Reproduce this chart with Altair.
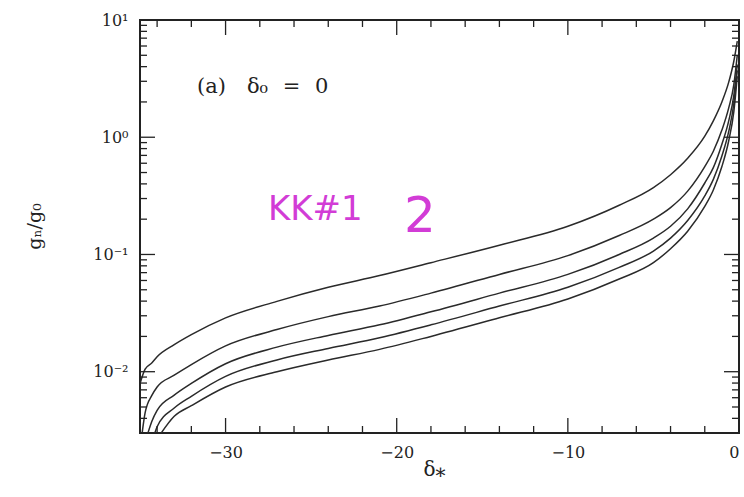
import altair as alt
import pandas as pd

# ---- data (x = delta_*, y = g_n/g_0) ----
x1 = [-35, -34.7, -34.3, -34, -33, -32, -30, -27, -24, -21, -18, -14, -10, -7, -5, -4, -3, -2, -1.5, -1, -0.6, -0.3, -0.1]
y1 = [0.0079, 0.0105, 0.0119, 0.0134, 0.0170, 0.0207, 0.0288, 0.0398, 0.0525, 0.0661, 0.0851, 0.120, 0.174, 0.263, 0.372, 0.479, 0.661, 1.02, 1.38, 2.00, 2.95, 4.47, 6.61]

x2 = [-34.9, -34.7, -34.3, -34, -33, -32, -30, -27, -24, -21, -18, -14, -10, -7, -5, -4, -3, -2, -1.5, -1, -0.6, -0.3, -0.1]
y2 = [0.0028, 0.00447, 0.00631, 0.00741, 0.00933, 0.0115, 0.0166, 0.0229, 0.0295, 0.0363, 0.0468, 0.0676, 0.0977, 0.145, 0.200, 0.251, 0.347, 0.562, 0.759, 1.15, 1.78, 2.82, 5.01]

x3 = [-34.6, -34.3, -34, -33, -32, -30, -27, -24, -21, -18, -14, -10, -7, -5, -4, -3, -2, -1.5, -1, -0.6, -0.3, -0.1]
y3 = [0.0028, 0.0038, 0.00468, 0.00631, 0.00794, 0.0117, 0.0162, 0.0204, 0.0251, 0.0324, 0.0468, 0.0676, 0.100, 0.138, 0.174, 0.245, 0.407, 0.550, 0.871, 1.38, 2.29, 4.17]

x4 = [-34.2, -34, -33, -32, -30, -27, -24, -21, -18, -14, -10, -7, -5, -4, -3, -2, -1.5, -1, -0.6, -0.3, -0.1]
y4 = [0.0028, 0.00339, 0.0049, 0.00617, 0.00912, 0.0126, 0.0158, 0.0195, 0.0251, 0.0363, 0.0525, 0.0776, 0.107, 0.138, 0.195, 0.316, 0.437, 0.692, 1.12, 1.95, 3.72]

x5 = [-33.9, -33, -32, -30, -27, -24, -21, -18, -14, -10, -7, -5, -4, -3, -2, -1.5, -1, -0.6, -0.3, -0.1]
y5 = [0.0028, 0.00417, 0.00513, 0.00741, 0.0100, 0.0126, 0.0155, 0.0200, 0.0288, 0.0417, 0.0617, 0.0851, 0.112, 0.158, 0.257, 0.355, 0.562, 0.933, 1.66, 3.31]

# ---- tick values and labels ----
x_major = [-30, -20, -10]
x_minor = [-34, -32, -28, -26, -24, -22, -18, -16, -14, -12, -8, -6, -4, -2]
x_label_values = [-30, -20, -10, 0]
y_major = [0.01, 0.1, 1, 10]
y_minor = [0.003, 0.004, 0.005, 0.006, 0.007, 0.008, 0.009,
           0.02, 0.03, 0.04, 0.05, 0.06, 0.07, 0.08, 0.09,
           0.2, 0.3, 0.4, 0.5, 0.6, 0.7, 0.8, 0.9,
           2, 3, 4, 5, 6, 7, 8, 9]

W, H = 599, 413
SERIF = "DejaVu Serif"
INK = "#222222"

rows = []
for name, xs, ys in [("n1", x1, y1), ("n2", x2, y2), ("n3", x3, y3), ("n4", x4, y4), ("n5", x5, y5)]:
    for a, b in zip(xs, ys):
        rows.append({"x": a, "y": b, "curve": name})
df = pd.DataFrame(rows)

xscale = alt.Scale(domain=[-35, 0], nice=False, zero=False)
yscale = alt.Scale(type="log", domain=[0.003, 10], nice=False)

xaxis = alt.Axis(
    values=x_label_values, grid=False, ticks=False, domain=False,
    labelExpr="datum.value == 0 ? '0' : '\u2212' + abs(datum.value)",
    labelFont=SERIF, labelFontSize=16, labelColor=INK, labelPadding=11,
    title="\u03b4\u204e", titleFont=SERIF, titleFontSize=20, titleFontWeight="normal",
    titleColor=INK, titleX=294, titleY=36, titleBaseline="middle",
)
yaxis = alt.Axis(
    values=y_major, grid=False, ticks=False, domain=False,
    labelExpr="datum.value >= 5 ? '10\u00b9' : datum.value >= 0.5 ? '10\u2070' : datum.value >= 0.05 ? '10\u207b\u00b9' : '10\u207b\u00b2'",
    labelFont=SERIF, labelFontSize=16, labelColor=INK, labelPadding=12,
    title="g\u2099/g\u2080", titleFont=SERIF, titleFontSize=19, titleFontWeight="normal",
    titleColor=INK, titleX=-106, titleY=206, titleAngle=270, titleBaseline="middle",
)

lines = alt.Chart(df).mark_line(clip=True, strokeWidth=1.5, color="#2a2a2a", interpolate="monotone").encode(
    x=alt.X("x:Q", scale=xscale, axis=xaxis),
    y=alt.Y("y:Q", scale=yscale, axis=yaxis),
    detail="curve:N",
)

def xticks(vals, length):
    d = pd.DataFrame({"v": vals})
    bottom = alt.Chart(d).mark_rule(color=INK, strokeWidth=1.3).encode(
        x=alt.X("v:Q", scale=xscale), y=alt.value(H), y2=alt.value(H - length))
    top = alt.Chart(d).mark_rule(color=INK, strokeWidth=1.3).encode(
        x=alt.X("v:Q", scale=xscale), y=alt.value(0), y2=alt.value(length))
    return [bottom, top]

def yticks(vals, length):
    d = pd.DataFrame({"v": vals})
    left = alt.Chart(d).mark_rule(color=INK, strokeWidth=1.3).encode(
        y=alt.Y("v:Q", scale=yscale), x=alt.value(0), x2=alt.value(length))
    right = alt.Chart(d).mark_rule(color=INK, strokeWidth=1.3).encode(
        y=alt.Y("v:Q", scale=yscale), x=alt.value(W), x2=alt.value(W - length))
    return [left, right]

tick_layers = xticks(x_major, 15) + xticks(x_minor, 7) + yticks(y_major, 15) + yticks(y_minor, 7)

label_df = pd.DataFrame({"t": ["(a)\u2003\u03b4\u2080\u2002\u2009=\u2002\u20090"]})
panel_label = alt.Chart(label_df).mark_text(
    font=SERIF, fontSize=21, color=INK, align="left", baseline="middle"
).encode(x=alt.value(57), y=alt.value(67), text="t:N")

hand_df = pd.DataFrame({"t": ["KK#1"]})
hand1 = alt.Chart(hand_df).mark_text(
    font="DejaVu Sans", fontSize=34, color="#d23cd6", align="left", baseline="middle"
).encode(x=alt.value(128), y=alt.value(190), text="t:N")
hand2_df = pd.DataFrame({"t": ["2"]})
hand2 = alt.Chart(hand2_df).mark_text(
    font="DejaVu Sans", fontSize=50, color="#d23cd6", align="center", baseline="middle"
).encode(x=alt.value(280), y=alt.value(197), text="t:N")

chart = alt.layer(lines, *tick_layers, panel_label, hand1, hand2).properties(
    width=W, height=H,
    autosize=alt.AutoSizeParams(type="none"),
    padding={"left": 140, "top": 20, "right": 5, "bottom": 64},
    background="white",
).configure_view(stroke=INK, strokeWidth=2)

chart.save("out.html", embed_options={"renderer": "svg", "actions": False})
